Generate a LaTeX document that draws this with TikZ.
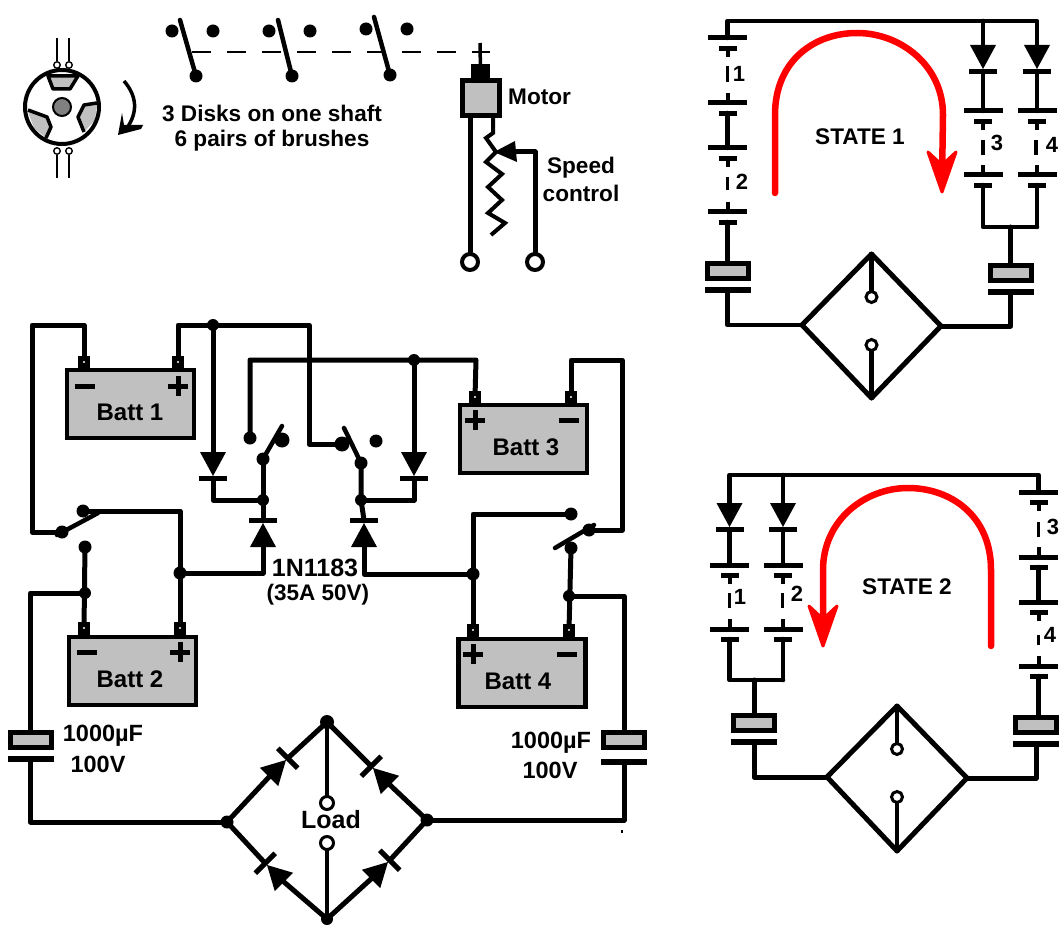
\documentclass[tikz,border=0pt]{standalone}
\usepackage{fontspec}
\setmainfont{Liberation Sans}
\usetikzlibrary{backgrounds}
\definecolor{bgray}{HTML}{C0C0C0}
\newcommand{\fs}[1]{\fontsize{#1}{#1}\selectfont}
\tikzset{
  x=1pt,y=-1pt,
  wire/.style={line width=5pt,line cap=round,line join=round},
  swire/.style={line width=4.5pt,line cap=round,line join=round},
  thinwire/.style={line width=1.8pt},
  lever/.style={line width=4.5pt,line cap=round},
  jdot/.style={circle,fill=black,inner sep=0pt,minimum size=12pt},
  sdot/.style={circle,fill=black,inner sep=0pt,minimum size=13pt},
  term/.style={circle,draw=black,fill=white,line width=3pt,inner sep=0pt,minimum size=11pt},
  battbox/.style={rectangle,draw=black,fill=bgray,line width=4.5pt,inner sep=0pt,minimum width=127pt,minimum height=68pt},
  battpost/.style={rectangle,fill=black,inner sep=0pt,minimum width=12pt,minimum height=13pt,
    path picture={\fill[white] (path picture bounding box.center) circle (1.2pt);}},
  capbox/.style={rectangle,draw=black,fill=bgray,line width=5pt,inner sep=0pt,minimum width=41pt,minimum height=15pt},
  capplate/.style={rectangle,fill=black,inner sep=0pt,minimum width=46pt,minimum height=5.5pt},
  lbl/.style={inner sep=0pt,font=\fs{22.6}\bfseries},
  redarc/.style={draw=red,line width=6.5pt,line cap=round,line join=round},
  redhead/.style={fill=red,draw=red,line width=3pt,line join=round},
  diode/.pic={
    \fill[black] (-13,-24) -- (13,-24) -- (0,0) -- cycle;
    \fill[black] (-14,0) rectangle (14,5);
    \coordinate (-in) at (0,-24);
    \coordinate (-out) at (0,3);
  },
  cellbot/.pic={
    \fill[black] (-19.5,-2.5) rectangle (19.5,2.5);
    \draw[line width=4pt] (0,-10) -- (0,0);
    \fill[black] (-9,8) rectangle (9,13);
    \coordinate (-top) at (0,0);
    \coordinate (-bot) at (0,10);
  },
  celltop/.pic={
    \fill[black] (-19.5,-2.5) rectangle (19.5,2.5);
    \fill[black] (-9,8) rectangle (9,13);
    \draw[line width=4pt] (0,10) -- (0,19);
    \coordinate (-top) at (0,0);
    \coordinate (-bot) at (0,10);
  },
  celldash/.style={line width=3.5pt},
}
\begin{document}
\begin{tikzpicture}
\useasboundingbox (0,0) rectangle (1059,925);

% ---------- disk ----------
\fill[bgray,draw=black,line width=3.5pt,line join=round] (48,76) -- (78,76) -- (70,89) -- (53,89) -- cycle;
\fill[bgray] (28,112) -- (47,117) -- (51,127) -- (46,138) -- (34,128) -- cycle;
\draw[line width=3.5pt,line join=round] (28,110) -- (47,117) -- (51,127) -- (46,138);
\fill[bgray] (97,103) -- (84,105) -- (78,117) -- (84,132) -- (95,120) -- cycle;
\draw[line width=3.5pt,line join=round] (97,103) -- (84,105) -- (78,117) -- (84,132);
\node[circle,draw=black,line width=4pt,minimum size=74pt,inner sep=0pt] (disk) at (62,107) {};
\node[circle,draw=black,fill=gray,line width=2pt,minimum size=18pt,inner sep=0pt] (hub) at (62,107) {};
\node[circle,draw=black,line width=1.4pt,minimum size=6.5pt,inner sep=0pt] (bt1) at (57,65) {};
\node[circle,draw=black,line width=1.4pt,minimum size=6.5pt,inner sep=0pt] (bt2) at (69,65) {};
\node[circle,draw=black,line width=1.4pt,minimum size=6.5pt,inner sep=0pt] (bb1) at (57,151) {};
\node[circle,draw=black,line width=1.4pt,minimum size=6.5pt,inner sep=0pt] (bb2) at (69,151) {};
\coordinate (bt1e) at (57,38); \coordinate (bt2e) at (69,38);
\coordinate (bb1e) at (57,178); \coordinate (bb2e) at (69,178);
\draw[thinwire] (bt1) -- (bt1e); \draw[thinwire] (bt2) -- (bt2e);
\draw[thinwire] (bb1) -- (bb1e); \draw[thinwire] (bb2) -- (bb2e);
\coordinate (ra1) at (124,81); \coordinate (ra2) at (127,128);
\draw[line width=3.5pt] (ra1) .. controls (137,96) and (138,112) .. (ra2);
\fill[black] (122,113) -- (124,125) -- (143,125) -- (141,129) -- (118,135) -- cycle;
\node[lbl] (t3d) at (272,113) {3 Disks on one shaft};
\node[lbl] (t6p) at (272,141) {6 pairs of brushes};

% ---------- ganged switches ----------
\node[jdot,minimum size=13pt] (g1a) at (172,31) {};
\node[jdot,minimum size=13pt] (g1b) at (213,31) {};
\node[jdot,minimum size=13pt] (g1c) at (196,76) {};
\coordinate (g1t) at (180,20);
\node[jdot,minimum size=13pt] (g2a) at (269,31) {};
\node[jdot,minimum size=13pt] (g2b) at (310,31) {};
\node[jdot,minimum size=13pt] (g2c) at (292,76) {};
\coordinate (g2t) at (278,20);
\node[jdot,minimum size=13pt] (g3a) at (366,29) {};
\node[jdot,minimum size=13pt] (g3b) at (407,29) {};
\node[jdot,minimum size=13pt] (g3c) at (390,75) {};
\coordinate (g3t) at (374,17);
\draw[lever] (g1t) -- (g1c.center);
\draw[lever] (g2t) -- (g2c.center);
\draw[lever] (g3t) -- (g3c.center);
\coordinate (da) at (192,52); \coordinate (db) at (490,52);
\draw[line width=1.8pt,dash pattern=on 19pt off 16pt] (da) -- (db);

% ---------- motor ----------
\node[rectangle,draw=black,fill=bgray,line width=5pt,minimum width=37pt,minimum height=35pt,inner sep=0pt] (motor) at (480.5,98) {};
\node[rectangle,fill=black,minimum width=19pt,minimum height=16pt,inner sep=0pt] (mcap) at (480.5,72) {};
\coordinate (shaft) at (480,43);
\draw[line width=3.5pt] (mcap.center) -- (shaft);
\node[term,minimum size=16pt,line width=4pt] (mt1) at (470,262) {};
\node[term,minimum size=16pt,line width=4pt] (mt2) at (535,262) {};
\coordinate (m1) at (470,117);
\draw[wire] (m1) -- (mt1.north);
\coordinate (wipc) at (535,152); \coordinate (wip) at (506,152);
\draw[wire] (mt2.north) |- (wip);
\fill[black] (494,152) -- (515,141) -- (517,162) -- cycle;
\coordinate (m2) at (493,117);
\draw[line width=4pt,line join=miter] (m2) -- (493,133) -- (486,138) -- (496,152) -- (486,162) -- (502,174) -- (488,187) -- (502,200) -- (488,213) -- (505,223) -- (491,235);
\node[lbl,anchor=west] (tmot) at (508,97) {Motor};
\node[lbl] (tsp) at (581,168) {Speed};
\node[lbl] (tct) at (581,193) {control};

% ---------- batteries ----------
\node[battbox] (b1) at (130.5,404) {};
\node[battbox] (b2) at (132.5,671) {};
\node[battbox] (b3) at (523.5,439) {};
\node[battbox] (b4) at (522,673) {};
\node[battpost] (b1a) at (84,362) {};
\node[battpost] (b1b) at (178,362) {};
\node[battpost] (b2a) at (84,628) {};
\node[battpost] (b2b) at (180,628) {};
\node[battpost] (b3a) at (475,397) {};
\node[battpost] (b3b) at (571,397) {};
\node[battpost] (b4a) at (473,630) {};
\node[battpost] (b4b) at (569,630) {};
\node[lbl,font=\fs{24}\bfseries] (l1) at (130,412) {Batt 1};
\node[lbl,font=\fs{24}\bfseries] (l2) at (130,679) {Batt 2};
\node[lbl,font=\fs{24}\bfseries] (l3) at (526,447) {Batt 3};
\node[lbl,font=\fs{24}\bfseries] (l4) at (518,681) {Batt 4};
\foreach \nm/\mx/\my/\px/\py in {a/85/386/178/386, b/87/652/180/652, c/569/420/475/420, d/567/654/473/654}{
  \fill[black] (\mx-10,\my-2.5) rectangle (\mx+10,\my+2.5);
  \fill[black] (\px-10,\py-2.5) rectangle (\px+10,\py+2.5);
  \fill[black] (\px-2.5,\py-10) rectangle (\px+2.5,\py+10);
}

% ---------- junctions and switch contacts ----------
\node[jdot] (j1) at (213,325) {};
\node[jdot] (j2) at (414,360) {};
\node[jdot] (j3) at (263,500) {};
\node[jdot] (j4) at (361,500) {};
\node[jdot,minimum size=13pt] (j5) at (180,573) {};
\node[jdot,minimum size=13pt] (j6) at (473,574) {};
\node[jdot] (j7) at (85,593) {};
\node[jdot] (j8) at (569,596) {};
\node[sdot] (s1a) at (250,438) {};
\node[sdot,minimum size=15pt] (s1b) at (282,440) {};
\node[jdot,minimum size=13pt] (s1c) at (263,459) {};
\coordinate (s1t) at (282,426);
\node[sdot,minimum size=15pt] (s2a) at (342,444) {};
\node[sdot] (s2b) at (376,441) {};
\node[jdot,minimum size=13pt] (s2c) at (361,463) {};
\coordinate (s2t) at (344,428);
\node[jdot,minimum size=13pt] (s3a) at (62,532) {};
\node[jdot,minimum size=13pt] (s3b) at (83,511) {};
\node[jdot,minimum size=13pt] (s3c) at (85,547) {};
\coordinate (s3t) at (98,513); \coordinate (s3e) at (57,535);
\node[jdot,minimum size=13pt] (s4a) at (589,530) {};
\node[jdot,minimum size=13pt] (s4b) at (571,514) {};
\node[jdot,minimum size=13pt] (s4c) at (571,548) {};
\coordinate (s4t) at (594,525); \coordinate (s4e) at (555,548);
\draw[lever] (s1c.center) -- (s1t);
\draw[lever] (s2t) -- (s2c.center);
\draw[lever] (s3e) -- (s3t);
\draw[lever] (s4e) -- (s4t);

% ---------- diodes ----------
\pic (dA) at (213,476) {diode};
\pic (dB) at (414,476) {diode};
\pic[rotate=180] (dC) at (263,523) {diode};
\pic[rotate=180] (dD) at (364,523) {diode};
\pic[rotate=135] (dTL) at (286,760) {diode};
\pic[rotate=225] (dTR) at (373,768) {diode};
\pic[rotate=225] (dBL) at (267,865) {diode};
\pic[rotate=135] (dBR) at (388,862) {diode};

% ---------- capacitors ----------
\node[capbox] (cL) at (30.5,740) {};
\node[capplate] (pL) at (30.5,759) {};
\node[capbox] (cR) at (624,740) {};
\node[capplate] (pR) at (624,762) {};

% ---------- bridge nodes ----------
\node[jdot,minimum size=14pt] (bTop) at (327,722) {};
\node[jdot,minimum size=13pt] (bLeft) at (227,822) {};
\node[jdot,minimum size=13pt] (bRight) at (427,820) {};
\node[jdot] (bBot) at (327,919) {};
\node[term,minimum size=13pt] (ld1) at (327,803) {};
\node[term,minimum size=13pt] (ld2) at (327,843) {};
\node[lbl,font=\fs{25}\bfseries] (tload) at (331,820) {Load};

% ---------- wires ----------
\coordinate (c1) at (32,325);
\coordinate (c3) at (309,325);
\coordinate (c5) at (622,360);
\coordinate (c13) at (476,360);
\begin{scope}[on background layer]
\draw[wire] (b1a.center) |- (c1) |- (s3a.center);
\draw[wire] (b1b.center) |- (c3) |- (s2a.center);
\draw[wire] (j1.center) -- (dA-in);
\draw[wire] (dA-out) |- (j3.center);
\draw[wire] (dB-out) |- (j4.center);
\draw[wire] (j2.center) -- (dB-in);
\draw[wire] (s1a.center) |- (c13) -- (b3a.center);
\draw[wire] (b3b.center) |- (c5) |- (s4a.center);
\draw[wire] (s1c.center) -- (j3.center) -- (dC-out);
\draw[wire] (s2c.center) -- (j4.center) -- (dD-out);
\draw[wire] (dC-in) |- (j5.center);
\draw[wire] (dD-in) |- (j6.center);
\draw[wire] (j5.center) |- (s3b.center);
\draw[wire] (j5.center) -- (b2b.center);
\draw[wire] (j6.center) |- (s4b.center);
\draw[wire] (j6.center) -- (b4a.center);
\draw[wire] (s3c.center) -- (b2a.center);
\draw[wire] (s4c.center) -- (b4b.center);
\draw[wire] (j7.center) -| (cL.center);
\draw[wire] (j8.center) -| (cR.center);
\draw[wire] (pL.center) |- (bLeft.center);
\draw[wire] (pR.center) |- (bRight.center);
\draw[wire] (bLeft.center) -- (dTL-in);
\draw[wire] (dTL-out) -- (bTop.center);
\draw[wire] (bRight.center) -- (dTR-in);
\draw[wire] (dTR-out) -- (bTop.center);
\draw[wire] (bBot.center) -- (dBL-in);
\draw[wire] (dBL-out) -- (bLeft.center);
\draw[wire] (bBot.center) -- (dBR-in);
\draw[wire] (dBR-out) -- (bRight.center);
\draw[swire] (bTop.center) -- (ld1.center);
\draw[swire] (ld2.center) -- (bBot.center);
\end{scope}
\fill[black] (621,830) rectangle (623,833);
\node[lbl,font=\fs{25}\bfseries] (t1n) at (315,568) {1N1183};
\node[lbl,font=\fs{22.5}\bfseries] (t35) at (318,595) {(35A 50V)};
\node[lbl,font=\fs{23.5}\bfseries] (tc1a) at (103,736) {1000µF};
\node[lbl,font=\fs{23.5}\bfseries] (tc1b) at (98,764) {100V};
\node[lbl,font=\fs{23.5}\bfseries] (tc2a) at (551,743) {1000µF};
\node[lbl,font=\fs{23.5}\bfseries] (tc2b) at (550,770) {100V};

% ========== STATE 1 ==========
\coordinate (aTR) at (1037,21); \coordinate (aT3) at (983,21);
\pic (a1) at (727.5,38) {celltop};
\pic (a1b) at (727.5,103) {cellbot};
\pic (a2) at (727.5,148) {celltop};
\pic (a2b) at (727.5,212) {cellbot};
\draw[celldash] (727.5,66) -- (727.5,82);
\draw[celldash] (727.5,177) -- (727.5,190);
\node[lbl,font=\fs{22}\bfseries] (n1) at (739,74) {1};
\node[lbl,font=\fs{22}\bfseries] (n2) at (742,182) {2};
\pic (a3) at (983,111) {celltop};
\pic (a3b) at (983,175) {cellbot};
\pic (a4) at (1037,111) {celltop};
\pic (a4b) at (1037,175) {cellbot};
\draw[celldash] (983,140) -- (983,155);
\draw[celldash] (1036,140) -- (1036,155);
\node[lbl,font=\fs{22}\bfseries] (n3) at (997,143) {3};
\node[lbl,font=\fs{22}\bfseries] (n4) at (1052,145) {4};
\pic (dS3) at (983,69) {diode};
\pic (dS4) at (1037,69) {diode};
\node[capbox] (aC1) at (727.5,271) {};
\node[capplate] (aP1) at (727.5,290) {};
\node[capbox] (aC2) at (1010.5,273) {};
\node[capplate] (aP2) at (1010.5,292) {};
\coordinate (aJ) at (1010.5,227); \coordinate (aJr) at (1037,227);
\node[inner sep=0pt,minimum size=0pt] (aL) at (802,325) {};
\node[inner sep=0pt,minimum size=0pt] (aT) at (871.5,254) {};
\node[inner sep=0pt,minimum size=0pt] (aR) at (941,326) {};
\node[inner sep=0pt,minimum size=0pt] (aB) at (871.5,398) {};
\node[term] (aO1) at (871.5,297) {};
\node[term] (aO2) at (871.5,345) {};
\begin{scope}[on background layer]
\draw[swire] (a1-top) |- (aTR) -- (dS4-in);
\draw[swire] (aT3) -- (dS3-in);
\draw[swire] (a1b-bot) -- (a2-top);
\draw[swire] (dS3-out) -- (a3-top);
\draw[swire] (dS4-out) -- (a4-top);
\draw[swire] (a2b-bot) -- (aC1.center);
\draw[swire] (aP1.center) |- (aL.center);
\draw[wire] (aP2.center) |- (aR.center);
\draw[wire] (aC2.center) -- (aJ);
\draw[swire] (a3b-bot) |- (aJr);
\draw[swire] (a4b-bot) -- (aJr);
\draw[wire] (aL.center) -- (aT.center) -- (aR.center) -- (aB.center) -- cycle;
\draw[swire] (aT.center) -- (aO1.center);
\draw[swire] (aO2.center) -- (aB.center);
\end{scope}
\node[lbl] (st1) at (860,137) {STATE 1};
\coordinate (r1a) at (775,193); \coordinate (r1b) at (775,115); \coordinate (r1c) at (857,33); \coordinate (r1d) at (943,115); \coordinate (r1e) at (942,180);
\draw[redarc] (r1a) -- (r1b) .. controls (775,60) and (815,33) .. (r1c) .. controls (900,33) and (943,65) .. (r1d) -- (r1e);
\path[redhead] (928,152) -- (942,192) -- (956,152) -- (942,165) -- cycle;

% ========== STATE 2 ==========
\coordinate (eT2) at (783,475); \coordinate (eTR) at (1038.5,475);
\pic (dE1) at (729.5,527) {diode};
\pic (dE2) at (783,527) {diode};
\pic (e1) at (729.5,565) {celltop};
\pic (e1b) at (729.5,629) {cellbot};
\pic (e2) at (783,565) {celltop};
\pic (e2b) at (783,629) {cellbot};
\draw[celldash] (729.5,593) -- (729.5,608);
\draw[celldash] (782.5,593) -- (782.5,608);
\node[lbl,font=\fs{22}\bfseries] (m1t) at (740,597) {1};
\node[lbl,font=\fs{22}\bfseries] (m2t) at (797,594) {2};
\pic (e3) at (1038.5,492) {celltop};
\pic (e3b) at (1038.5,557) {cellbot};
\pic (e4) at (1038.5,602) {celltop};
\pic (e4b) at (1038.5,666) {cellbot};
\draw[celldash] (1038.5,522) -- (1038.5,537);
\draw[celldash] (1038.5,635) -- (1038.5,645);
\node[lbl,font=\fs{22}\bfseries] (m3t) at (1053,527) {3};
\node[lbl,font=\fs{22}\bfseries] (m4t) at (1050,635) {4};
\node[capbox] (eC1) at (754,723) {};
\node[capplate] (eP1) at (754,742) {};
\node[capbox] (eC2) at (1036,725) {};
\node[capplate] (eP2) at (1036,744) {};
\coordinate (eJ) at (754,680); \coordinate (eJr) at (783,680);
\node[inner sep=0pt,minimum size=0pt] (eL) at (827,777) {};
\node[inner sep=0pt,minimum size=0pt] (eT) at (897,706) {};
\node[inner sep=0pt,minimum size=0pt] (eR) at (967,778) {};
\node[inner sep=0pt,minimum size=0pt] (eB) at (897,851) {};
\node[term] (eO1) at (897,749) {};
\node[term] (eO2) at (897,797) {};
\coordinate (eK) at (1038.5,715);
\begin{scope}[on background layer]
\draw[swire] (dE1-in) |- (eTR) -- (e3-top);
\draw[swire] (eT2) -- (dE2-in);
\draw[swire] (dE1-out) -- (e1-top);
\draw[swire] (dE2-out) -- (e2-top);
\draw[swire] (e3b-bot) -- (e4-top);
\draw[swire] (e1b-bot) |- (eJr);
\draw[swire] (e2b-bot) -- (eJr);
\draw[wire] (eJ) -- (eC1.center);
\draw[wire] (eP1.center) |- (eL.center);
\draw[wire] (eP2.center) |- (eR.center);
\draw[swire] (e4b-bot) -- (eK);
\draw[wire] (eL.center) -- (eT.center) -- (eR.center) -- (eB.center) -- cycle;
\draw[swire] (eT.center) -- (eO1.center);
\draw[swire] (eO2.center) -- (eB.center);
\end{scope}
\node[lbl] (st2) at (907,587) {STATE 2};
\coordinate (r2a) at (991,646); \coordinate (r2b) at (991,570); \coordinate (r2c) at (908,488); \coordinate (r2d) at (823,570); \coordinate (r2e) at (823,635);
\draw[redarc] (r2a) -- (r2b) .. controls (991,515) and (950,488) .. (r2c) .. controls (865,488) and (823,520) .. (r2d) -- (r2e);
\path[redhead] (809,606) -- (823,646) -- (837,606) -- (823,619) -- cycle;
\end{tikzpicture}
\end{document}
